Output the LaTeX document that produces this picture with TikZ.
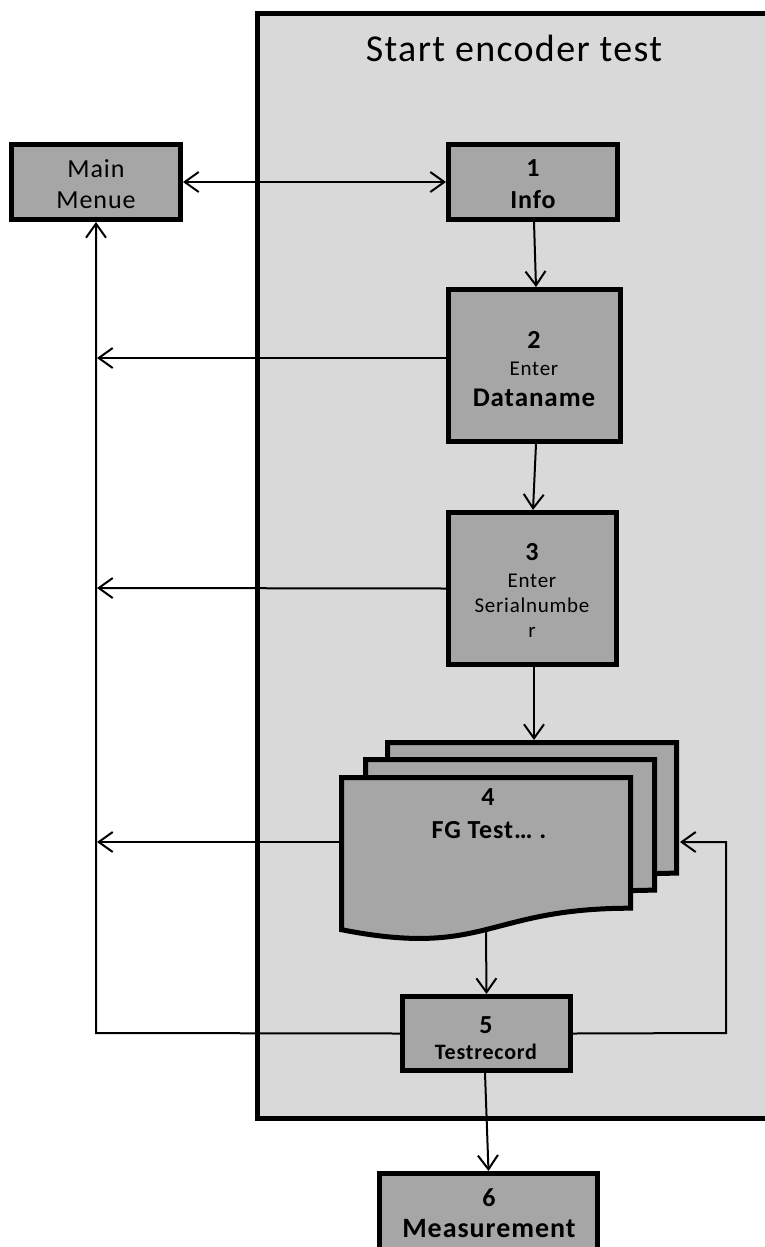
\documentclass[tikz,border=0pt]{standalone}
\usepackage{fontspec}
\setmainfont{Carlito}[LetterSpace=3.5]
\usetikzlibrary{arrows.meta}
\definecolor{grpfill}{HTML}{D9D9D9}
\definecolor{boxfill}{HTML}{A6A6A6}
\newcommand\fsz[1]{\fontsize{#1}{#1}\selectfont}
\tikzset{
  box/.style={draw=black, line width=5pt, fill=boxfill, rectangle, inner sep=0pt},
  docshape/.style={draw=black, line width=5pt, fill=boxfill, line join=miter},
  grpline/.style={draw=black, line width=5pt},
  txt/.style={anchor=base, inner sep=0pt, text=black},
  conn/.style={draw=black, line width=2pt},
  tipb/.tip={Straight Barb[length=14pt,width=20pt,line width=2pt]},
  arr/.style={conn, -tipb},
  darr/.style={conn, tipb-tipb},
}
\newcommand\drawdoc[2]{%
  \path[docshape] (#1,#2) -- ({#1+289},#2) -- ({#1+289},{#2+130.7})
    .. controls ({#1+144.5},{#2+130.7}) and ({#1+144.5},{#2+180.6}) .. (#1,{#2+152.2}) -- cycle;}
\begin{document}
\begin{tikzpicture}[x=1pt,y=-1pt]
\useasboundingbox (0,0) rectangle (764,1247);
\fill[white] (0,0) rectangle (764,1247);
% group container
\fill[grpfill] (257.5,13.5) rectangle (775,1118);
\draw[grpline] (775,13.5) -- (257.5,13.5) -- (257.5,1118) -- (775,1118);
\node[txt, font=\fsz{38}] (title) at (514,62) {Start encoder test};

% boxes
\node[box, minimum width=169pt, minimum height=75pt] (menu) at (96,182) {};
\node[txt, font=\fsz{26}] (menuA) at (96,177.5) {Main};
\node[txt, font=\fsz{26}] (menuB) at (96,208.5) {Menue};

\node[box, minimum width=169pt, minimum height=75pt] (info) at (533,182) {};
\node[txt, font=\bfseries\fsz{26}] (infoA) at (533,176.5) {1};
\node[txt, font=\bfseries\fsz{26}] (infoB) at (533,208.5) {Info};

\node[box, minimum width=172pt, minimum height=152pt] (b2) at (534.5,365.5) {};
\node[txt, font=\bfseries\fsz{26}] (b2A) at (534,348) {2};
\node[txt, font=\fsz{21}] (b2B) at (534,375) {Enter};
\node[txt, font=\bfseries\fsz{27}] (b2C) at (534,406) {Dataname};

\node[box, minimum width=168pt, minimum height=152pt] (b3) at (532.5,588.5) {};
\node[txt, font=\bfseries\fsz{26}] (b3A) at (532,560) {3};
\node[txt, font=\fsz{21}] (b3B) at (532,587) {Enter};
\node[txt, font=\fsz{21}] (b3C) at (532,612) {Serialnumbe};
\node[txt, font=\fsz{21}] (b3D) at (532,637) {r};

% multi-document 4
\drawdoc{387.5}{742.5}
\drawdoc{365.5}{759.5}
\drawdoc{341.5}{777.5}
\node[txt, font=\bfseries\fsz{26}] (d4A) at (488,805) {4};
\node[txt, font=\bfseries\fsz{26}] (d4B) at (489,838) {FG Test… .};
\coordinate (d4top) at (534,740);
\coordinate (d4left) at (339,842);
\coordinate (d4bot) at (486,932);
\coordinate (d4right) at (680,842);

\node[box, minimum width=168pt, minimum height=74pt] (b5) at (486.5,1033.5) {};
\node[txt, font=\bfseries\fsz{26}] (b5A) at (486,1033) {5};
\node[txt, font=\bfseries\fsz{22}] (b5B) at (486,1059) {Testrecord};

\node[box, minimum width=218pt, minimum height=90pt] (b6) at (488.5,1218.5) {};
\node[txt, font=\bfseries\fsz{26}] (b6A) at (489,1206) {6};
\node[txt, font=\bfseries\fsz{28}] (b6B) at (489,1237) {Measurement};

% routing points
\coordinate (sp2) at (97,358);
\coordinate (sp3) at (97,588);
\coordinate (sp4) at (97,842);
\coordinate (sp5) at (96,1033);
\coordinate (rt5) at (726,1033);
\coordinate (rt4) at (726,842);

% connectors
\draw[darr] (menu.east) -- (info.west);
\draw[arr] ([xshift=1pt]info.south) -- ([xshift=1.5pt]b2.north);
\draw[arr] ([xshift=1.5pt]b2.south) -- ([xshift=0.5pt]b3.north);
\draw[arr] ([xshift=1.5pt]b3.south) -- (d4top);
\draw[arr] (d4bot) -- (b5.north);
\draw[arr] ([xshift=-1.5pt]b5.south) -- (b6.north);
\draw[arr] ([yshift=7.5pt]b2.west) -- (sp2);
\draw[arr] (b3.west) -- (sp3);
\draw[arr] (d4left) -- (sp4);
\draw[arr] (b5.west) -- (sp5) -- (menu.south);
\draw[arr] (b5.east) -- (rt5) -- (rt4) -- (d4right);
\end{tikzpicture}
\end{document}
